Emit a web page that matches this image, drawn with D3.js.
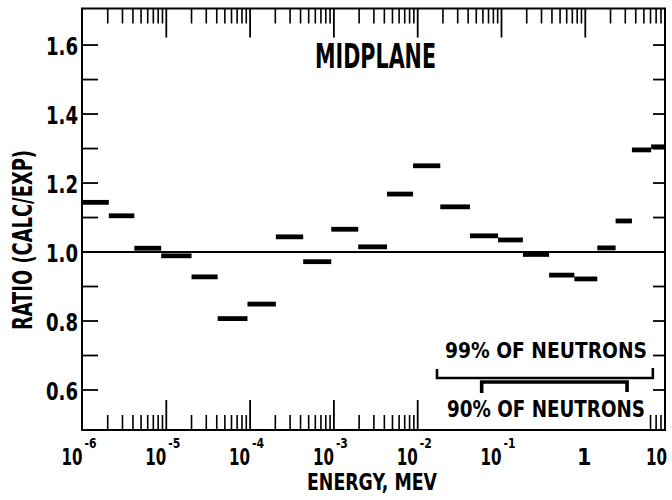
<!DOCTYPE html>
<html lang="en">
<head>
    <meta charset="UTF-8">
    <script src="https://d3js.org/d3.v7.min.js"></script>
    <title>Midplane ratio</title>
    <style>
        body { margin: 0; background: #fff; }
        text { font-family: "DejaVu Sans Condensed", "Liberation Sans Narrow", "DejaVu Sans", sans-serif; font-stretch: condensed; font-weight: bold; fill: #000; }
    </style>
</head>
<body>
<div id="chart"></div>
<script>
    // energy group boundaries (MeV) and calc/exp ratio per group
    var binEdges = [1e-6, 2.06e-6, 4.15e-6, 8.7e-6, 2.0e-5, 4.1e-5, 9.3e-5, 2.03e-4, 4.3e-4, 9.3e-4,
        1.95e-3, 4.3e-3, 8.8e-3, 1.86e-2, 4.2e-2, 9.1e-2, 0.18, 0.37, 0.74, 1.39, 2.3, 3.6, 6.1, 8.8];
    var ratios = [1.144, 1.105, 1.011, 0.989, 0.928, 0.807, 0.849, 1.044, 0.972, 1.066, 1.015, 1.168,
        1.250, 1.131, 1.047, 1.035, 0.993, 0.933, 0.922, 1.012, 1.090, 1.296, 1.305];
    var decades = [1e-6, 1e-5, 1e-4, 1e-3, 1e-2, 1e-1, 1, 10];
    var yTicks = [0.6, 0.7, 0.8, 0.9, 1.0, 1.1, 1.2, 1.3, 1.4, 1.5, 1.6];
    var yLabels = [0.6, 0.8, 1.0, 1.2, 1.4, 1.6];
    var range99 = [0.017, 6.4];
    var range90 = [0.058, 3.15];

    var canvasWidth = 672;
    var canvasHeight = 500;
    var plotL = 82, plotR = 665, plotT = 8.5, plotB = 430;

    var svg = d3.select("#chart").append("svg")
        .attr("width", canvasWidth)
        .attr("height", canvasHeight);

    var xScale = d3.scaleLog().domain([1e-6, 10]).range([82.5, 669.1]);
    var yScale = d3.scaleLinear().domain([0.484, 1.706]).range([plotB, plotT]);

    // minor ticks 2..9 in each decade
    var minor = [];
    decades.forEach(function(d) {
        for (var k = 2; k <= 9; k++) {
            var v = d * k;
            if (xScale(v) < plotR - 1) minor.push(v);
        }
    });
    var major = decades.filter(function(d) { return d > 1e-6 && xScale(d) < plotR - 1; });

    // top ticks
    svg.selectAll(".tminor").data(minor).enter().append("line")
        .attr("x1", function(d) { return xScale(d); })
        .attr("x2", function(d) { return xScale(d); })
        .attr("y1", plotT).attr("y2", plotT + 15)
        .attr("stroke", "#000").attr("stroke-width", 1.6);
    svg.selectAll(".tmajor").data(major).enter().append("line")
        .attr("x1", function(d) { return xScale(d); })
        .attr("x2", function(d) { return xScale(d); })
        .attr("y1", plotT).attr("y2", plotT + 29)
        .attr("stroke", "#000").attr("stroke-width", 1.8);

    // bottom ticks (the 90% label hides the ones under it)
    var hidden = function(d) { return d > 0.0101 && d < 5.9; };
    svg.selectAll(".bminor").data(minor.filter(function(d) { return !hidden(d); })).enter().append("line")
        .attr("x1", function(d) { return xScale(d); })
        .attr("x2", function(d) { return xScale(d); })
        .attr("y1", plotB).attr("y2", plotB - 15)
        .attr("stroke", "#000").attr("stroke-width", 1.6);
    svg.selectAll(".bmajor").data(major.filter(function(d) { return !hidden(d); })).enter().append("line")
        .attr("x1", function(d) { return xScale(d); })
        .attr("x2", function(d) { return xScale(d); })
        .attr("y1", plotB).attr("y2", plotB - 30)
        .attr("stroke", "#000").attr("stroke-width", 1.8);

    // y ticks, left and right
    svg.selectAll(".ly").data(yTicks.filter(function(d) { return d != 1.0; })).enter().append("line")
        .attr("x1", plotL).attr("x2", plotL + 16)
        .attr("y1", function(d) { return yScale(d); })
        .attr("y2", function(d) { return yScale(d); })
        .attr("stroke", "#000").attr("stroke-width", 1.8);
    svg.selectAll(".ry").data(yTicks.filter(function(d) { return d != 1.0; })).enter().append("line")
        .attr("x1", plotR - 12).attr("x2", plotR)
        .attr("y1", function(d) { return yScale(d); })
        .attr("y2", function(d) { return yScale(d); })
        .attr("stroke", "#000").attr("stroke-width", 1.8);

    // frame
    svg.append("rect")
        .attr("x", plotL).attr("y", plotT)
        .attr("width", plotR - plotL).attr("height", plotB - plotT)
        .attr("fill", "none").attr("stroke", "#000").attr("stroke-width", 2);

    // reference line at ratio 1
    svg.append("line")
        .attr("x1", plotL).attr("x2", plotR)
        .attr("y1", yScale(1)).attr("y2", yScale(1))
        .attr("stroke", "#000").attr("stroke-width", 2);

    // group bars
    svg.selectAll(".bar").data(ratios).enter().append("line").attr("class", "bar")
        .attr("x1", function(d, i) { return xScale(binEdges[i]); })
        .attr("x2", function(d, i) { return xScale(binEdges[i + 1]); })
        .attr("y1", function(d) { return yScale(d); })
        .attr("y2", function(d) { return yScale(d); })
        .attr("stroke", "#000").attr("stroke-width", 4.8);

    // y labels
    svg.selectAll(".ylab").data(yLabels).enter().append("text")
        .attr("x", 78)
        .attr("y", function(d) { return yScale(d) + 10; })
        .attr("text-anchor", "end")
        .attr("font-size", "24px")
        .attr("textLength", 32).attr("lengthAdjust", "spacingAndGlyphs")
        .text(function(d) { return d.toFixed(1); });

    // x labels, 10 with exponent
    decades.forEach(function(d) {
        var e = Math.round(Math.log10(d));
        var x = Math.min(xScale(d), 667);
        if (e == 0) {
            svg.append("text").attr("x", x - 1).attr("y", 465)
                .attr("text-anchor", "middle").attr("font-size", "23px").text("1");
            return;
        }
        svg.append("text").attr("x", x).attr("y", 465)
            .attr("text-anchor", "end").attr("font-size", "23px")
            .attr("textLength", 21).attr("lengthAdjust", "spacingAndGlyphs")
            .text("10");
        if (e < 0) {
            svg.append("text").attr("x", x + 2).attr("y", 448)
                .attr("font-size", "14px")
                .attr("textLength", 12).attr("lengthAdjust", "spacingAndGlyphs")
                .text("-" + (-e));
        }
    });

    svg.append("text")
        .attr("x", 307).attr("y", 490)
        .attr("font-size", "23px")
        .attr("textLength", 130).attr("lengthAdjust", "spacingAndGlyphs")
        .text("ENERGY, MEV");

    svg.append("text")
        .attr("transform", "translate(32, 240) rotate(-90)")
        .attr("text-anchor", "middle")
        .attr("font-size", "26px")
        .attr("textLength", 180).attr("lengthAdjust", "spacingAndGlyphs")
        .text("RATIO (CALC/EXP)");

    svg.append("text")
        .attr("x", 315).attr("y", 68)
        .attr("font-size", "33px")
        .attr("textLength", 121).attr("lengthAdjust", "spacingAndGlyphs")
        .text("MIDPLANE");

    // neutron range brackets
    var y99 = 378;
    svg.append("path")
        .attr("d", "M" + xScale(range99[0]) + "," + (y99 - 9) + "V" + y99 + "H" + xScale(range99[1]) + "V" + (y99 - 10))
        .attr("fill", "none").attr("stroke", "#000").attr("stroke-width", 2.6);
    var y90 = 382;
    svg.append("path")
        .attr("d", "M" + xScale(range90[0]) + "," + (y90 + 11) + "V" + y90 + "H" + xScale(range90[1]) + "V" + (y90 + 10))
        .attr("fill", "none").attr("stroke", "#000").attr("stroke-width", 3.6);

    svg.append("text")
        .attr("x", 445).attr("y", 358)
        .attr("font-size", "22px")
        .attr("textLength", 202).attr("lengthAdjust", "spacingAndGlyphs")
        .text("99% OF NEUTRONS");
    svg.append("text")
        .attr("x", 447).attr("y", 417)
        .attr("font-size", "23px")
        .attr("textLength", 198).attr("lengthAdjust", "spacingAndGlyphs")
        .text("90% OF NEUTRONS");
</script>
</body>
</html>
